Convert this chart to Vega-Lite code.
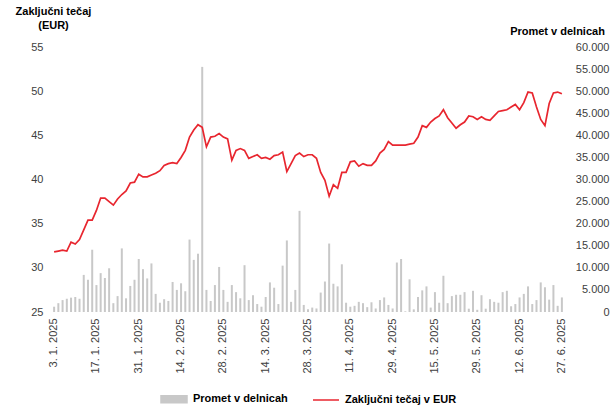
{
  "$schema": "https://vega.github.io/schema/vega-lite/v6.json",
  "width": 512,
  "height": 265,
  "autosize": {"type": "none"},
  "padding": {"left": 52, "top": 47, "right": 47, "bottom": 93},
  "background": "white",
  "config": {
    "view": {"stroke": null},
    "font": "Liberation Sans",
    "axis": {"grid": false, "domain": false, "ticks": false, "labelFont": "Liberation Sans", "labelFontSize": 11, "labelColor": "#404040", "titleFont": "Liberation Sans", "titleFontSize": 11, "titleFontWeight": "bold", "titleColor": "#000000"}
  },
  "data": {"values": [
    {"d":"3. 1. 2025","p":1200,"c":31.8},{"d":"6. 1. 2025","p":2000,"c":31.9},{"d":"7. 1. 2025","p":2700,"c":32.0},{"d":"8. 1. 2025","p":3000,"c":31.9},{"d":"9. 1. 2025","p":3250,"c":32.9},{"d":"10. 1. 2025","p":3400,"c":32.7},{"d":"13. 1. 2025","p":3000,"c":33.2},{"d":"14. 1. 2025","p":8400,"c":34.3},{"d":"15. 1. 2025","p":7300,"c":35.4},{"d":"16. 1. 2025","p":14100,"c":35.4},
    {"d":"17. 1. 2025","p":6100,"c":36.5},{"d":"20. 1. 2025","p":8800,"c":37.9},{"d":"21. 1. 2025","p":7700,"c":37.9},{"d":"22. 1. 2025","p":9900,"c":37.5},{"d":"23. 1. 2025","p":2000,"c":37.1},{"d":"24. 1. 2025","p":3600,"c":37.8},{"d":"27. 1. 2025","p":14400,"c":38.3},{"d":"28. 1. 2025","p":3100,"c":38.7},{"d":"29. 1. 2025","p":5900,"c":39.6},{"d":"30. 1. 2025","p":7300,"c":39.7},
    {"d":"31. 1. 2025","p":12000,"c":40.6},{"d":"3. 2. 2025","p":9700,"c":40.3},{"d":"4. 2. 2025","p":7600,"c":40.3},{"d":"5. 2. 2025","p":11000,"c":40.5},{"d":"6. 2. 2025","p":4100,"c":40.7},{"d":"7. 2. 2025","p":2100,"c":41.0},{"d":"10. 2. 2025","p":2900,"c":41.6},{"d":"11. 2. 2025","p":2500,"c":41.8},{"d":"12. 2. 2025","p":6800,"c":41.9},{"d":"13. 2. 2025","p":5000,"c":41.8},
    {"d":"14. 2. 2025","p":6500,"c":42.5},{"d":"17. 2. 2025","p":4700,"c":43.3},{"d":"18. 2. 2025","p":16400,"c":44.8},{"d":"19. 2. 2025","p":11800,"c":45.6},{"d":"20. 2. 2025","p":13200,"c":46.2},{"d":"21. 2. 2025","p":55500,"c":45.9},{"d":"24. 2. 2025","p":5000,"c":43.7},{"d":"25. 2. 2025","p":2500,"c":44.8},{"d":"26. 2. 2025","p":6100,"c":44.9},{"d":"27. 2. 2025","p":10200,"c":45.2},
    {"d":"28. 2. 2025","p":5000,"c":44.8},{"d":"3. 3. 2025","p":2300,"c":44.6},{"d":"4. 3. 2025","p":6100,"c":42.2},{"d":"5. 3. 2025","p":4500,"c":43.3},{"d":"6. 3. 2025","p":3100,"c":43.5},{"d":"7. 3. 2025","p":10600,"c":43.3},{"d":"10. 3. 2025","p":2700,"c":42.4},{"d":"11. 3. 2025","p":3800,"c":42.6},{"d":"12. 3. 2025","p":1800,"c":42.8},{"d":"13. 3. 2025","p":1200,"c":42.4},
    {"d":"14. 3. 2025","p":3400,"c":42.5},{"d":"17. 3. 2025","p":6700,"c":42.3},{"d":"18. 3. 2025","p":5500,"c":42.7},{"d":"19. 3. 2025","p":1800,"c":42.8},{"d":"20. 3. 2025","p":10500,"c":43.1},{"d":"21. 3. 2025","p":16200,"c":40.9},{"d":"24. 3. 2025","p":2300,"c":41.8},{"d":"25. 3. 2025","p":5000,"c":42.7},{"d":"26. 3. 2025","p":22900,"c":43.0},{"d":"27. 3. 2025","p":1600,"c":42.6},
    {"d":"28. 3. 2025","p":600,"c":42.8},{"d":"31. 3. 2025","p":1000,"c":42.8},{"d":"1. 4. 2025","p":800,"c":42.4},{"d":"2. 4. 2025","p":4400,"c":40.8},{"d":"3. 4. 2025","p":6900,"c":39.9},{"d":"4. 4. 2025","p":15500,"c":38.1},{"d":"7. 4. 2025","p":6400,"c":39.4},{"d":"8. 4. 2025","p":5800,"c":39.0},{"d":"9. 4. 2025","p":10800,"c":40.8},{"d":"10. 4. 2025","p":2100,"c":40.8},
    {"d":"11. 4. 2025","p":1200,"c":42.0},{"d":"14. 4. 2025","p":1400,"c":42.1},{"d":"15. 4. 2025","p":2300,"c":41.5},{"d":"16. 4. 2025","p":2000,"c":41.8},{"d":"17. 4. 2025","p":1100,"c":41.6},{"d":"22. 4. 2025","p":2200,"c":41.6},{"d":"23. 4. 2025","p":800,"c":42.1},{"d":"24. 4. 2025","p":2700,"c":43.0},{"d":"25. 4. 2025","p":3300,"c":43.4},{"d":"28. 4. 2025","p":1600,"c":44.3},
    {"d":"29. 4. 2025","p":800,"c":43.9},{"d":"30. 4. 2025","p":11200,"c":43.9},{"d":"5. 5. 2025","p":12000,"c":43.9},{"d":"6. 5. 2025","p":150,"c":43.9},{"d":"7. 5. 2025","p":7400,"c":44.0},{"d":"8. 5. 2025","p":600,"c":44.1},{"d":"9. 5. 2025","p":3400,"c":44.8},{"d":"12. 5. 2025","p":4900,"c":46.1},{"d":"13. 5. 2025","p":5800,"c":45.9},{"d":"14. 5. 2025","p":1000,"c":46.5},
    {"d":"15. 5. 2025","p":4500,"c":46.9},{"d":"16. 5. 2025","p":2100,"c":47.2},{"d":"19. 5. 2025","p":8200,"c":47.9},{"d":"20. 5. 2025","p":2000,"c":47.0},{"d":"21. 5. 2025","p":3600,"c":46.4},{"d":"22. 5. 2025","p":3900,"c":45.8},{"d":"23. 5. 2025","p":3900,"c":46.2},{"d":"26. 5. 2025","p":4500,"c":46.5},{"d":"27. 5. 2025","p":750,"c":47.2},{"d":"28. 5. 2025","p":4800,"c":47.1},
    {"d":"29. 5. 2025","p":500,"c":46.8},{"d":"30. 5. 2025","p":3800,"c":47.1},{"d":"2. 6. 2025","p":750,"c":46.8},{"d":"3. 6. 2025","p":2900,"c":46.7},{"d":"4. 6. 2025","p":2300,"c":47.2},{"d":"5. 6. 2025","p":2100,"c":47.7},{"d":"6. 6. 2025","p":4500,"c":47.8},{"d":"9. 6. 2025","p":4800,"c":47.9},{"d":"10. 6. 2025","p":1300,"c":48.2},{"d":"11. 6. 2025","p":1800,"c":48.5},
    {"d":"12. 6. 2025","p":3300,"c":47.9},{"d":"13. 6. 2025","p":4100,"c":48.7},{"d":"16. 6. 2025","p":5800,"c":49.9},{"d":"17. 6. 2025","p":1800,"c":49.8},{"d":"18. 6. 2025","p":2700,"c":48.2},{"d":"19. 6. 2025","p":6700,"c":46.8},{"d":"20. 6. 2025","p":5600,"c":46.1},{"d":"23. 6. 2025","p":2800,"c":48.6},{"d":"24. 6. 2025","p":6100,"c":49.8},{"d":"26. 6. 2025","p":1400,"c":49.9},
    {"d":"27. 6. 2025","p":3300,"c":49.7}
  ]},
  "encoding": {
    "x": {
      "field": "d", "type": "ordinal", "sort": null,
      "scale": {"paddingInner": 0, "paddingOuter": 0},
      "axis": {
        "title": null, "labelAngle": -90, "labelPadding": 6,
        "values": ["3. 1. 2025","17. 1. 2025","31. 1. 2025","14. 2. 2025","28. 2. 2025","14. 3. 2025","28. 3. 2025","11. 4. 2025","29. 4. 2025","15. 5. 2025","29. 5. 2025","12. 6. 2025","27. 6. 2025"]
      }
    }
  },
  "layer": [
    {
      "mark": {"type": "bar", "size": 2},
      "encoding": {
        "y": {
          "field": "p", "type": "quantitative",
          "scale": {"domain": [0, 60000], "nice": false},
          "axis": {
            "orient": "right",
            "values": [0,5000,10000,15000,20000,25000,30000,35000,40000,45000,50000,55000,60000],
            "labelExpr": "replace(format(datum.value, ','), ',', '.')",
            "labelAlign": "right", "labelPadding": 45,
            "title": "Promet v delnicah", "titleAngle": 0, "titleAlign": "center", "titleBaseline": "alphabetic",
            "titleX": -7, "titleY": -13
          }
        },
        "color": {
          "datum": "Promet v delnicah",
          "scale": {"domain": ["Promet v delnicah", "Zaključni tečaj v EUR"], "range": ["#c8c8c8", "#e8262f"]},
          "legend": {
            "orient": "none", "legendX": 108, "legendY": 338, "direction": "horizontal", "title": null,
            "padding": 0, "offset": 0,
            "labelFont": "Liberation Sans", "labelFontSize": 11, "labelFontWeight": "bold", "labelColor": "#000000",
            "symbolSize": 676, "labelOffset": 5, "columnPadding": 22,
            "encode": {
              "symbols": {
                "update": {
                  "shape": {"signal": "datum.value === 'Promet v delnicah' ? 'M-1,-0.27H1V0.27H-1Z' : 'M-1,0H1'"},
                  "fill": {"signal": "datum.value === 'Promet v delnicah' ? '#c8c8c8' : 'transparent'"},
                  "stroke": {"signal": "datum.value === 'Promet v delnicah' ? 'transparent' : '#e8262f'"},
                  "strokeWidth": {"value": 1.5},
                  "opacity": {"value": 1}
                }
              }
            }
          }
        }
      }
    },
    {
      "mark": {"type": "line", "strokeWidth": 1.7},
      "encoding": {
        "y": {
          "field": "c", "type": "quantitative",
          "scale": {"domain": [25, 55], "nice": false, "zero": false},
          "axis": {
            "orient": "left",
            "values": [25,30,35,40,45,50,55],
            "labelPadding": 9,
            "title": ["Zaključni tečaj", "(EUR)"], "titleAngle": 0, "titleAlign": "center", "titleBaseline": "alphabetic",
            "titleX": 1, "titleY": -33, "titleLineHeight": 14
          }
        },
        "color": {"datum": "Zaključni tečaj v EUR"}
      }
    }
  ],
  "resolve": {"scale": {"y": "independent"}}
}
